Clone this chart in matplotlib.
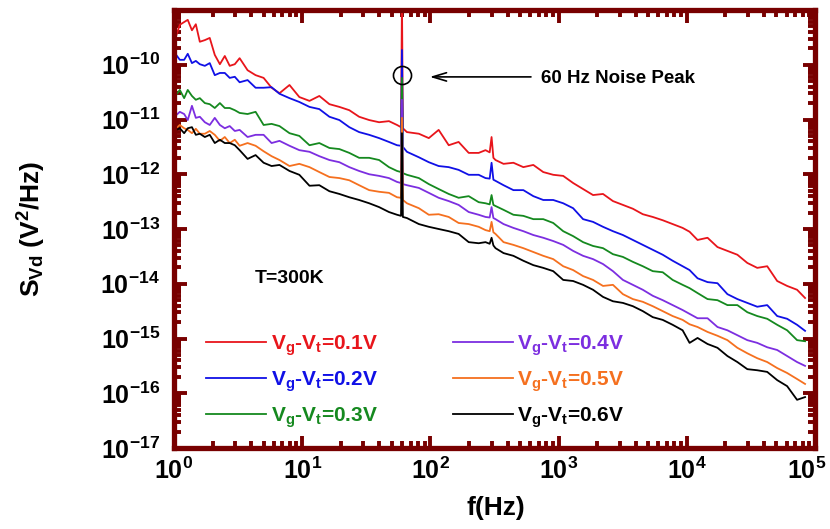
import numpy as np
import matplotlib.pyplot as plt
from matplotlib.ticker import LogLocator, NullFormatter
from matplotlib.transforms import ScaledTranslation

plt.rcParams['font.family'] = ['Liberation Sans', 'DejaVu Sans']
plt.rcParams['font.weight'] = 'bold'
plt.rcParams['axes.labelweight'] = 'bold'
plt.rcParams['mathtext.fontset'] = 'custom'
plt.rcParams['mathtext.rm'] = 'Liberation Sans:bold'
plt.rcParams['mathtext.bf'] = 'Liberation Sans:bold'
plt.rcParams['mathtext.it'] = 'Liberation Sans:bold'
plt.rcParams['mathtext.default'] = 'rm'

# frequency points (Hz)
freq = [1.04, 1.11, 1.2, 1.28, 1.38, 1.48, 1.59, 1.74, 1.9, 2.08,
        2.28, 2.49, 2.72, 2.98, 3.25, 3.75, 4.33, 5.0, 5.77, 6.65,
        7.96, 9.5, 11.4, 13.6, 16.3, 19.5, 23.3, 27.8, 33.3, 39.8,
        47.5, 54.9, 59, 60, 61, 65.6, 81.3, 97.2, 116, 139,
        166, 199, 238, 269, 290, 300, 310, 322, 372, 444,
        531, 635, 759, 908, 1086, 1298, 1552, 1856, 2220, 2654,
        3174, 3795, 4538, 5426, 6488, 7758, 9277, 10510, 12130, 14510,
        17350, 20740, 24800, 29650, 35450, 42390, 50700, 60610, 72470, 83650]

# log10 of S_Vd (V^2/Hz) for each gate overdrive
svd_01 = [-9.47, -9.27, -9.22, -9.18, -9.37, -9.26, -9.58, -9.55, -9.51, -9.82,
          -9.99, -9.84, -10.02, -9.99, -9.88, -10.10, -10.19, -10.24, -10.42, -10.52,
          -10.37, -10.59, -10.66, -10.57, -10.72, -10.77, -10.83, -10.95, -11.01, -11.05,
          -11.03, -11.10, -11.14, -8.8, -11.16, -11.23, -11.26, -11.34, -11.19, -11.47,
          -11.41, -11.61, -11.61, -11.56, -11.60, -11.32, -11.70, -11.74, -11.81, -11.79,
          -11.87, -11.83, -11.96, -12.01, -12.03, -12.16, -12.27, -12.38, -12.36, -12.49,
          -12.56, -12.63, -12.73, -12.78, -12.84, -12.91, -12.98, -13.05, -13.20, -13.16,
          -13.33, -13.40, -13.47, -13.62, -13.71, -13.68, -13.95, -14.04, -14.11, -14.26]
svd_02 = [-9.82, -9.91, -9.91, -9.80, -9.97, -9.93, -9.99, -10.02, -9.97, -10.19,
          -10.15, -10.15, -10.24, -10.22, -10.32, -10.28, -10.42, -10.42, -10.41, -10.53,
          -10.61, -10.68, -10.77, -10.81, -10.95, -11.01, -11.14, -11.23, -11.28, -11.34,
          -11.41, -11.47, -11.48, -9.73, -11.50, -11.59, -11.69, -11.78, -11.85, -11.87,
          -11.92, -12.01, -12.01, -12.07, -12.08, -11.79, -12.10, -12.12, -12.20, -12.29,
          -12.29, -12.40, -12.47, -12.47, -12.53, -12.62, -12.82, -12.87, -12.96, -13.04,
          -13.11, -13.20, -13.29, -13.38, -13.47, -13.58, -13.68, -13.75, -13.90, -13.97,
          -13.99, -14.19, -14.28, -14.35, -14.42, -14.39, -14.59, -14.64, -14.75, -14.86]
svd_03 = [-10.55, -10.46, -10.61, -10.46, -10.57, -10.64, -10.61, -10.70, -10.72, -10.79,
          -10.70, -10.79, -10.79, -10.83, -10.88, -10.90, -10.86, -11.10, -11.08, -11.12,
          -11.25, -11.30, -11.47, -11.43, -11.52, -11.54, -11.61, -11.70, -11.70, -11.74,
          -11.87, -11.94, -11.96, -10.24, -11.98, -12.01, -12.07, -12.18, -12.27, -12.36,
          -12.43, -12.40, -12.51, -12.53, -12.55, -12.38, -12.56, -12.58, -12.65, -12.74,
          -12.76, -12.82, -12.82, -12.89, -13.04, -13.13, -13.24, -13.31, -13.35, -13.46,
          -13.51, -13.60, -13.68, -13.77, -13.79, -13.93, -14.02, -14.08, -14.17, -14.28,
          -14.30, -14.39, -14.39, -14.52, -14.59, -14.64, -14.75, -14.85, -15.03, -15.05]
svd_04 = [-10.92, -10.86, -10.90, -11.01, -10.75, -10.97, -10.95, -11.05, -11.10, -10.97,
          -11.10, -11.16, -11.12, -11.21, -11.19, -11.32, -11.28, -11.28, -11.43, -11.39,
          -11.48, -11.56, -11.59, -11.67, -11.74, -11.78, -11.87, -11.94, -12.00, -12.03,
          -12.07, -12.14, -12.16, -10.64, -12.18, -12.20, -12.25, -12.34, -12.43, -12.49,
          -12.56, -12.69, -12.74, -12.78, -12.79, -12.60, -12.80, -12.82, -12.91, -12.98,
          -13.04, -13.11, -13.16, -13.22, -13.29, -13.40, -13.49, -13.55, -13.64, -13.77,
          -13.93, -14.02, -14.11, -14.22, -14.30, -14.39, -14.48, -14.55, -14.63, -14.63,
          -14.79, -14.85, -14.94, -15.03, -15.08, -15.16, -15.21, -15.32, -15.43, -15.50]
svd_05 = [-11.16, -11.10, -11.16, -11.19, -11.25, -11.17, -11.26, -11.26, -11.21, -11.28,
          -11.39, -11.32, -11.43, -11.37, -11.48, -11.43, -11.48, -11.58, -11.67, -11.74,
          -11.85, -11.81, -11.87, -11.96, -12.05, -12.07, -12.11, -12.20, -12.29, -12.32,
          -12.34, -12.42, -12.43, -10.97, -12.47, -12.53, -12.62, -12.74, -12.73, -12.78,
          -12.89, -12.91, -12.96, -13.02, -13.04, -12.87, -13.06, -13.09, -13.24, -13.29,
          -13.35, -13.42, -13.49, -13.55, -13.68, -13.75, -13.86, -13.93, -14.04, -14.02,
          -14.19, -14.28, -14.33, -14.41, -14.50, -14.59, -14.66, -14.74, -14.79, -14.88,
          -14.95, -15.03, -15.17, -15.27, -15.36, -15.43, -15.54, -15.63, -15.74, -15.83]
svd_06 = [-11.19, -11.16, -11.25, -11.16, -11.14, -11.28, -11.26, -11.32, -11.28, -11.43,
          -11.37, -11.43, -11.43, -11.47, -11.56, -11.72, -11.65, -11.79, -11.85, -11.83,
          -11.94, -12.01, -12.21, -12.20, -12.31, -12.36, -12.42, -12.47, -12.53, -12.60,
          -12.69, -12.74, -12.76, -11.25, -12.78, -12.80, -12.91, -12.96, -13.00, -13.04,
          -13.09, -13.24, -13.26, -13.24, -13.27, -13.16, -13.30, -13.35, -13.44, -13.49,
          -13.58, -13.66, -13.71, -13.77, -13.93, -13.95, -14.02, -14.11, -14.24, -14.32,
          -14.35, -14.41, -14.50, -14.61, -14.66, -14.75, -14.85, -15.08, -14.99, -15.10,
          -15.17, -15.32, -15.43, -15.56, -15.58, -15.61, -15.76, -15.87, -16.12, -16.07]

series = [svd_01, svd_02, svd_03, svd_04, svd_05, svd_06]
labels = [r'$V_g$-$V_t$=0.1V', r'$V_g$-$V_t$=0.2V', r'$V_g$-$V_t$=0.3V',
          r'$V_g$-$V_t$=0.4V', r'$V_g$-$V_t$=0.5V', r'$V_g$-$V_t$=0.6V']
colors = ['#e8151b', '#1010e6', '#15891f', '#7c2ee0', '#f5701f', '#000000']

frame = '#780000'

fig = plt.figure(figsize=(8.3, 5.29), dpi=100)
ax = fig.add_axes([174 / 830, 1 - 448 / 529, 641 / 830, 438 / 529])

for vals, lab, c in zip(series, labels, colors):
    ax.plot(freq, 10.0 ** np.array(vals), color=c, lw=1.3, label=lab)

ax.set_xscale('log')
ax.set_yscale('log')
ax.set_xlim(1, 1e5)
ax.set_ylim(1e-17, 1e-9)

xe = list(range(0, 6))
ye = list(range(-17, -9))
ax.set_xticks([10.0 ** e for e in xe], [r'$10^{%d}$' % e for e in xe])
ax.set_yticks([10.0 ** e for e in ye], [r'$10^{%d}$' % e for e in ye])
ax.xaxis.set_minor_locator(LogLocator(base=10, subs=np.arange(2, 10), numticks=20))
ax.yaxis.set_minor_locator(LogLocator(base=10, subs=np.arange(2, 10), numticks=20))
ax.xaxis.set_minor_formatter(NullFormatter())
ax.yaxis.set_minor_formatter(NullFormatter())

ax.tick_params(which='both', direction='in', top=True, right=True, color=frame, width=2.8)
ax.tick_params(which='major', length=9, labelsize=18)
ax.tick_params(which='minor', length=5)
ax.tick_params(axis='y', which='major', pad=10)
ax.tick_params(axis='x', which='major', pad=7)
for sp in ax.spines.values():
    sp.set_color(frame)
    sp.set_linewidth(3.8)

# keep the 10^5 label inside the figure
last = ax.xaxis.get_major_ticks()[-1].label1
last.set_transform(last.get_transform() + ScaledTranslation(-6 / 72, 0, fig.dpi_scale_trans))

ax.set_ylabel(r'$S_{Vd}$ (V$^2$/Hz)', fontsize=19)
ax.yaxis.set_label_coords(-0.196, 0.5)
ax.set_xlabel('f(Hz)', fontsize=19)
ax.xaxis.set_label_coords(0.502, -0.11)

# 60 Hz marker, arrow and note
ax.plot([60], [6.5e-11], ls='none', marker='o', ms=13, mfc='none', mec='black', mew=1.2)
ax.annotate('', xy=(94, 6.0e-11), xytext=(640, 6.0e-11),
            arrowprops=dict(arrowstyle='->,head_length=1.0,head_width=0.3', color='black', lw=1.2))
ax.text(733, 5.7e-11, '60 Hz Noise Peak', fontsize=13.5, va='center', ha='left')
ax.text(0.126, 0.388, 'T=300K', transform=ax.transAxes, fontsize=14, va='center', ha='left')

ax.legend(loc='upper left', bbox_to_anchor=(0.05, 0.262), ncol=2, frameon=False,
          fontsize=15, labelcolor='linecolor', handlelength=2.9, handletextpad=0.2,
          columnspacing=3.6, labelspacing=0.55, borderpad=0, borderaxespad=0)

fig.savefig('out.png', dpi=100)
